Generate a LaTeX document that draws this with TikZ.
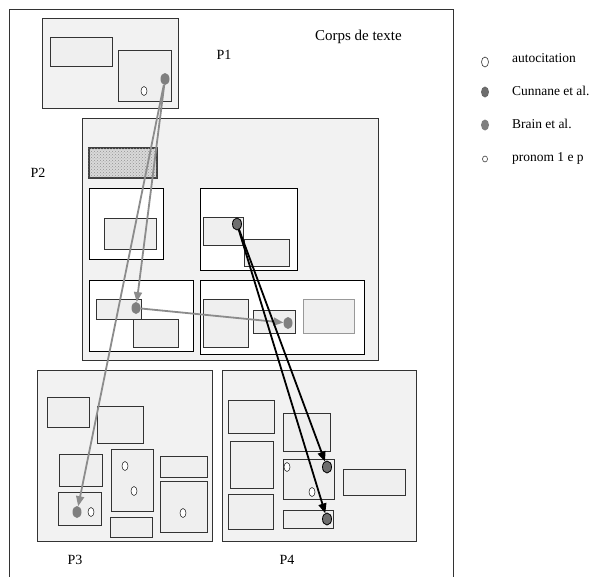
\documentclass[tikz,border=0pt]{standalone}
\usepackage{fontspec}
\setmainfont{Liberation Serif}
\usetikzlibrary{shapes.geometric,arrows.meta,patterns}
\definecolor{pfill}{HTML}{F2F2F2}
\definecolor{ifill}{HTML}{EFEFEF}
\definecolor{edge}{HTML}{333333}
\definecolor{dotgray}{HTML}{7F7F7F}
\definecolor{dotdark}{HTML}{6E6E6E}
\definecolor{arrgray}{HTML}{8C8C8C}
\newcommand\bx[6]{\node[#2, minimum width={#5pt-#3pt}, minimum height={#6pt-#4pt}, anchor=north west] (#1) at (#3,#4) {};}
\tikzset{
  every node/.style={inner sep=0pt, outer sep=0pt},
  pbox/.style={draw=edge, fill=pfill, line width=0.9pt},
  ibox/.style={draw=edge, fill=ifill, line width=0.9pt},
  gbox/.style={draw=gray!80, fill=ifill, line width=0.9pt},
  wbox/.style={draw=black, fill=white, line width=0.9pt},
  hbox/.style={draw=black!75, line width=2pt, fill=gray!30, postaction={pattern=crosshatch dots, pattern color=gray!85}},
  odot/.style={ellipse, draw=black!80, line width=0.6pt, fill=white, minimum width=6pt, minimum height=9pt},
  sodot/.style={ellipse, draw=black!80, line width=0.6pt, fill=white, minimum width=5pt, minimum height=6pt},
  bdot/.style={ellipse, fill=dotgray, minimum width=9pt, minimum height=12pt},
  cdot/.style={ellipse, fill=dotdark, draw=black, line width=0.8pt, minimum width=9pt, minimum height=12pt},
  lbl/.style={font=\fontsize{14}{16}\selectfont},
  leg/.style={font=\fontsize{13.5}{16}\selectfont, anchor=west},
  garr/.style={draw=arrgray, line width=1.8pt, -{Triangle[length=10pt,width=8pt]}},
  karr/.style={draw=black, line width=1.8pt, -{Triangle[length=10pt,width=8pt]}}
}
\begin{document}
\begin{tikzpicture}[x=1pt,y=-1pt]
\useasboundingbox (0,0) rectangle (612,576);
\clip (0,0) rectangle (612,576);
\fill[white] (0,0) rectangle (612,576);
% outer frame
\draw[line width=0.9pt, draw=black!80] (9.5,600) -- (9.5,9.5) -- (453,9.5) -- (453,600);
\node[font=\fontsize{15}{17}\selectfont, anchor=west] (corps) at (315,37) {Corps de texte};
% P1
\bx{p1}{pbox}{42}{18}{178}{108}
\bx{p1a}{ibox}{50}{37}{112}{66}
\bx{p1b}{ibox}{118}{50}{171}{101}
\node[odot] (p1o) at (144,91) {};
\node[bdot] (p1d) at (165,79) {};
\node[lbl] (lp1) at (224,55) {P1};
% P2
\bx{p2}{pbox}{82}{118}{378}{360}
\node[lbl] (lp2) at (38,173) {P2};
\bx{p2h}{hbox}{88.5}{148}{156.5}{177.5}
\bx{p2a}{wbox}{89}{188}{163}{259}
\bx{p2a1}{ibox}{104}{218}{156}{249}
\bx{p2b}{wbox}{200}{188}{297}{270}
\bx{p2b1}{ibox}{203}{217}{243}{245}
\bx{p2b2}{ibox}{244}{239}{289}{266}
\bx{p2c}{wbox}{89}{280}{193}{351}
\bx{p2c1}{ibox}{96}{299}{141}{319}
\bx{p2c2}{ibox}{133}{319}{178}{347}
\bx{p2d}{wbox}{200}{280}{364}{354}
\bx{p2d1}{ibox}{203}{299}{248}{347}
\bx{p2d2}{ibox}{253}{310}{295}{333}
\bx{p2d3}{gbox}{303}{299}{354}{333}
\node[cdot] (p2bd) at (237,224) {};
\node[bdot] (p2cd) at (136,308) {};
\node[bdot] (p2dd) at (288,323) {};
% P3
\bx{p3}{pbox}{37}{370}{212}{541}
\bx{p3a}{ibox}{47}{397}{89}{427}
\bx{p3b}{ibox}{97}{406}{143}{443}
\bx{p3c}{ibox}{59}{454}{102}{486}
\bx{p3d}{ibox}{58}{492}{101}{525}
\bx{p3e}{ibox}{111}{449}{153}{511}
\bx{p3f}{ibox}{160}{456}{207}{477}
\bx{p3g}{ibox}{160}{481}{207}{532}
\bx{p3h}{ibox}{110}{517}{152}{537}
\node[odot] (p3o1) at (125,466) {};
\node[odot] (p3o2) at (134,491) {};
\node[odot] (p3o3) at (91,512) {};
\node[odot] (p3o4) at (183,513) {};
\node[bdot] (p3dd) at (77,512) {};
\node[lbl] (lp3) at (75,560) {P3};
% P4
\bx{p4}{pbox}{222}{370}{416}{541}
\bx{p4a}{ibox}{228}{400}{274}{433}
\bx{p4b}{ibox}{230}{441}{273}{488}
\bx{p4c}{ibox}{228}{494}{273}{529}
\bx{p4d}{ibox}{283}{413}{330}{451}
\bx{p4e}{ibox}{283}{459}{334}{499}
\bx{p4f}{ibox}{283}{510}{333}{528}
\bx{p4g}{ibox}{343}{469}{405}{495}
\node[odot] (p4o1) at (287,467) {};
\node[odot] (p4o2) at (312,492) {};
\node[cdot] (p4d1) at (327,467) {};
\node[cdot] (p4d2) at (327,519) {};
\node[lbl] (lp4) at (287,560) {P4};
% arrows
\draw[garr] (p1d) -- (p2cd);
\draw[garr] (p1d) -- (p3dd);
\draw[garr] (p2cd) -- (p2dd);
\draw[karr] (p2bd) -- (p4d1);
\draw[karr] (p2bd) -- (p4d2);
% legend
\node[odot, minimum width=7pt, minimum height=10pt] (k1) at (485,62) {};
\node[cdot, draw=black!60, minimum width=7pt, minimum height=10pt] (k2) at (485,92) {};
\node[bdot, minimum width=8pt, minimum height=11pt] (k3) at (485,125) {};
\node[sodot] (k4) at (485,159) {};
\node[leg] (t1) at (512,58) {autocitation};
\node[leg] (t2) at (512,91) {Cunnane et al.};
\node[leg] (t3) at (512,124) {Brain et al.};
\node[leg] (t4) at (512,158) {pronom 1 e p};
\end{tikzpicture}
\end{document}
